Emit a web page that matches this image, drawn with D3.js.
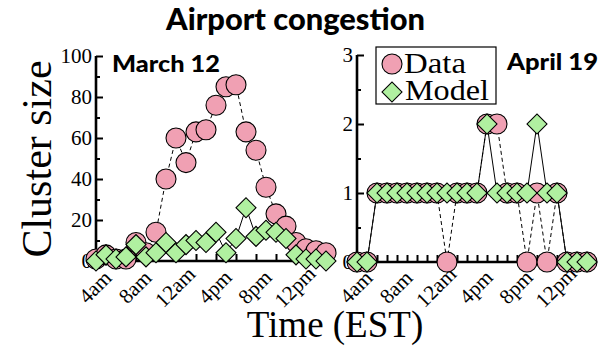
<!DOCTYPE html>
<html>
<head>
<meta charset="utf-8">
<script src="https://cdn.jsdelivr.net/npm/d3@7/dist/d3.min.js"></script>
<style>
  html, body { margin: 0; padding: 0; background: #fff; }
  svg { display: block; }
  .serif { font-family: "Liberation Serif", "DejaVu Serif", serif; }
  .sans { font-family: Lato, "Open Sans", "Noto Sans", sans-serif; font-weight: 900; }
</style>
</head>
<body>
<svg id="chart" width="604" height="347"></svg>
<script>
// Hour index counted from 4am
const hourIndex = [0,1,2,3,4,5,6,7,8,9,10,11,12,13,14,15,16,17,18,19,20,21,22,23];
const labelHours = [0, 4, 8, 12, 16, 20];
const labelText = ["4am", "8am", "12am", "4pm", "8pm", "12pm"];

// March 12 cluster sizes
const marchData  = [1,3,1,1,9,4,14,40,60,48,63,64,76,85,86,63,54,36,23,17,9,6,5,4];
const marchModel = [0,3,1,2,8,2,4,9,4,8,10,9,14,4,11,26,12,15,14,11,3,1,1,0];

// April 19 cluster sizes
const aprilData  = [0,0,1,1,1,1,1,1,1,0,1,1,1,2,2,1,1,0,1,0,1,0,0,0];
const aprilModel = [0,0,1,1,1,1,1,1,1,1,1,1,1,2,1,1,1,1,2,1,1,0,0,0];

const marchYTicks = [0, 20, 40, 60, 80, 100];
const marchYMinor = [10, 30, 50, 70, 90];
const aprilYTicks = [0, 1, 2, 3];
const aprilYMinor = [0.5, 1.5, 2.5];
const marchXTicks = [0,2,4,6,8,10,12,14,16,18,20,22];
const aprilXTicks = [0,1,2,3,4,5,6,7,8,9,10,11,12,13,14,15,16,17,18,19,20,21,22];

const pink = "#f0a0b3";
const green = "#b0f0a0";

const svg = d3.select("#chart");

function panel(opts) {
  const { x, y, yTicks, yMinor, xTicks, data, model, title, titleX, titleY, titleW, axisEnd, yLabelX } = opts;
  const g = svg.append("g");

  // y-axis tick labels
  g.selectAll(".ylab").data(yTicks).join("text")
    .attr("class", "serif")
    .attr("x", yLabelX).attr("y", d => y(d))
    .attr("text-anchor", "end").attr("dominant-baseline", "central")
    .attr("font-size", 21).text(d => d);

  // x-axis rotated labels
  g.selectAll(".xlab").data(labelHours).join("text")
    .attr("class", "serif")
    .attr("transform", d => `translate(${x(d) - 1},287) rotate(-45)`)
    .attr("text-anchor", "middle").attr("dominant-baseline", "central")
    .attr("font-size", 21).text((d, i) => labelText[i]);

  const x0 = x.range()[0];
  const yBase = y.range()[0];

  // axes with inward ticks
  const yAxis = d3.axisLeft(y).tickValues(yTicks).tickSize(-7).tickFormat("");
  const ya = g.append("g").attr("transform", `translate(${x0},0)`).call(yAxis);
  const yAxisMinor = d3.axisLeft(y).tickValues(yMinor).tickSize(-4).tickFormat("");
  const yb = g.append("g").attr("transform", `translate(${x0},0)`).call(yAxisMinor);
  yb.select(".domain").remove();

  const xAxis = d3.axisBottom(x).tickValues(xTicks).tickSize(-7).tickFormat("");
  const xa = g.append("g").attr("transform", `translate(0,${yBase})`).call(xAxis);
  xa.select(".domain").attr("d", `M${x0},0H${axisEnd}`);
  ya.select(".domain").attr("d", `M0,${yBase}V${y.range()[1]}`);

  [ya, yb, xa].forEach(a => {
    a.selectAll("line").attr("stroke", "#000").attr("stroke-width", 2);
    a.select(".domain").attr("stroke", "#000").attr("stroke-width", 2.6);
  });

  // series lines: dashed for observed data, solid for the model
  const line = d3.line().x((d, i) => x(hourIndex[i])).y(d => y(d));
  g.append("path").attr("d", line(data)).attr("fill", "none")
    .attr("stroke", "#000").attr("stroke-width", 1).attr("stroke-dasharray", "4,3");
  g.append("path").attr("d", line(model)).attr("fill", "none")
    .attr("stroke", "#000").attr("stroke-width", 1);

  // markers
  g.selectAll(".dot").data(data).join("circle")
    .attr("cx", (d, i) => x(hourIndex[i])).attr("cy", d => y(d)).attr("r", 10)
    .attr("fill", pink).attr("stroke", "#000").attr("stroke-width", 1.1);
  const sym = d3.symbol().type(d3.symbolSquare).size(200);
  g.selectAll(".dia").data(model).join("path")
    .attr("d", sym)
    .attr("transform", (d, i) => `translate(${x(hourIndex[i])},${y(d)}) rotate(45)`)
    .attr("fill", green).attr("stroke", "#000").attr("stroke-width", 1.1);

  // panel title
  g.append("text").attr("class", "sans").attr("x", titleX).attr("y", titleY)
    .attr("font-size", 23).attr("textLength", titleW).attr("lengthAdjust", "spacingAndGlyphs")
    .text(title);
}

panel({
  x: d3.scaleLinear().domain([0, 23]).range([96, 326]),
  y: d3.scaleLinear().domain([0, 100]).range([261, 56]),
  yTicks: marchYTicks, yMinor: marchYMinor, xTicks: marchXTicks,
  data: marchData, model: marchModel,
  title: "March 12", titleX: 112, titleY: 72, titleW: 108, axisEnd: 325, yLabelX: 92
});

panel({
  x: d3.scaleLinear().domain([0, 23]).range([357, 587]),
  y: d3.scaleLinear().domain([0, 3]).range([262, 55]),
  yTicks: aprilYTicks, yMinor: aprilYMinor, xTicks: aprilXTicks,
  data: aprilData, model: aprilModel,
  title: "April 19", titleX: 507, titleY: 70, titleW: 91, axisEnd: 587, yLabelX: 353
});

// legend
const leg = svg.append("g");
leg.append("rect").attr("x", 376).attr("y", 47).attr("width", 120).attr("height", 57)
  .attr("fill", "#fff").attr("stroke", "#000").attr("stroke-width", 1.2);
leg.append("circle").attr("cx", 392).attr("cy", 64).attr("r", 10)
  .attr("fill", pink).attr("stroke", "#000").attr("stroke-width", 1.1);
leg.append("path").attr("d", d3.symbol().type(d3.symbolSquare).size(200))
  .attr("transform", "translate(392,92) rotate(45)")
  .attr("fill", green).attr("stroke", "#000").attr("stroke-width", 1.1);
leg.append("text").attr("class", "serif").attr("x", 404).attr("y", 73)
  .attr("font-size", 29).attr("textLength", 62).attr("lengthAdjust", "spacingAndGlyphs").text("Data");
leg.append("text").attr("class", "serif").attr("x", 405).attr("y", 100)
  .attr("font-size", 29).attr("textLength", 84).attr("lengthAdjust", "spacingAndGlyphs").text("Model");

// titles and axis names
svg.append("text").attr("class", "sans").attr("x", 166).attr("y", 30)
  .attr("font-size", 30).attr("textLength", 259).attr("lengthAdjust", "spacingAndGlyphs")
  .text("Airport congestion");
svg.append("text").attr("class", "serif")
  .attr("transform", "translate(51,159) rotate(-90)")
  .attr("text-anchor", "middle").attr("font-size", 42).text("Cluster size");
svg.append("text").attr("class", "serif").attr("x", 335).attr("y", 337)
  .attr("text-anchor", "middle").attr("font-size", 37).text("Time (EST)");
</script>
</body>
</html>
